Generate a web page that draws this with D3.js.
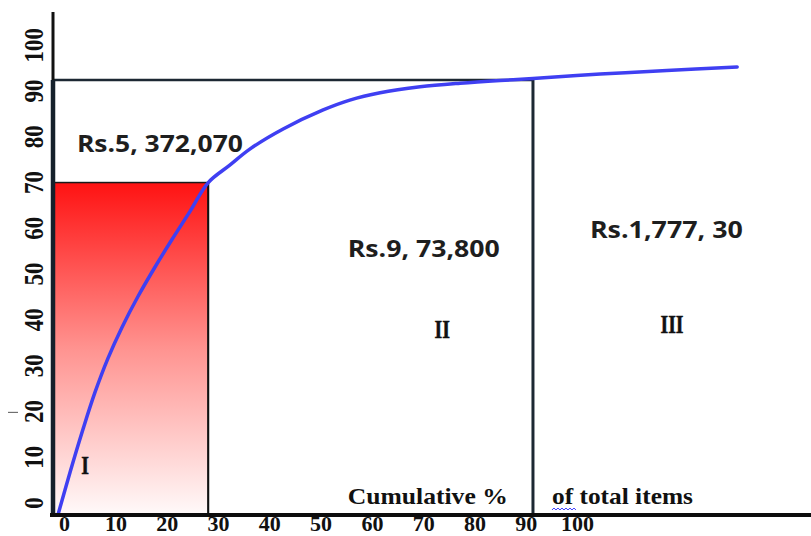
<!DOCTYPE html>
<html>
<head>
<meta charset="utf-8">
<script src="https://cdn.jsdelivr.net/npm/d3@7"></script>
<style>
  html, body { margin: 0; padding: 0; background: #fff; }
  svg { display: block; }
</style>
</head>
<body>
<svg id="chart" width="811" height="536"></svg>
<script>
// ---------- data ----------
const xTickValues = [0, 10, 20, 30, 40, 50, 60, 70, 80, 90, 100];
const yTickValues = [0, 10, 20, 30, 40, 50, 60, 70, 80, 90, 100];
// cumulative % of items (x) vs cumulative % of value (y)
const curveItems = [-1.3, 1.05, 3.6, 5.9, 8.45, 11.2, 14.3, 17.6, 20.9, 24.45, 28.0, 32.2, 36.1, 42.6, 50.4, 55.6, 61.5, 69.3, 77.1, 84.9, 91.3, 104.4, 117.4, 131.1];
const curveValue = [-2.6, 6.66, 16.16, 24.1, 31.6, 38.4, 45.1, 51.5, 57.5, 63.7, 70.0, 73.8, 77.3, 81.7, 85.85, 88.0, 89.6, 90.9, 91.7, 92.3, 92.7, 93.7, 94.45, 95.25];
// class boundaries
const boundaryItems = [28.0, 91.3];
const boundaryValue = [70, 92.4];
const classNames = ["I", "II", "III"];
const classAmounts = ["Rs.5, 372,070", "Rs.9, 73,800", "Rs.1,777, 30"];
const axisTitleParts = ["Cumulative %", "of total items"];

// ---------- layout ----------
const W = 811, H = 536;
const axisLeft = 53, axisBottom = 515, axisTop = 12;
const svg = d3.select("#chart");
svg.append("rect").attr("width", W).attr("height", H).attr("fill", "#fff");

const x = d3.scaleLinear().domain([0, 100]).range([64.6, 577.6]);
const y = d3.scaleLinear().domain([0, 100]).range([503, 45.2]);

// gradient for class I block
const defs = svg.append("defs");
const grad = defs.append("linearGradient").attr("id", "redGrad")
  .attr("x1", 0).attr("y1", 0).attr("x2", 0).attr("y2", 1);
grad.append("stop").attr("offset", "0%").attr("stop-color", "#ff1212");
grad.append("stop").attr("offset", "50%").attr("stop-color", "#ff9390");
grad.append("stop").attr("offset", "100%").attr("stop-color", "#fffafa");

// class I block
svg.append("rect")
  .attr("x", axisLeft)
  .attr("y", y(boundaryValue[0]))
  .attr("width", x(boundaryItems[0]) - axisLeft)
  .attr("height", axisBottom - y(boundaryValue[0]))
  .attr("fill", "url(#redGrad)")
  .attr("stroke", "#1a1a1a").attr("stroke-width", 1.5);

// boundary lines
const lineColor = "#1c2833";
svg.append("line")
  .attr("x1", axisLeft).attr("x2", x(boundaryItems[1]))
  .attr("y1", y(boundaryValue[1])).attr("y2", y(boundaryValue[1]))
  .attr("stroke", lineColor).attr("stroke-width", 2.5);
svg.append("line")
  .attr("x1", x(boundaryItems[1])).attr("x2", x(boundaryItems[1]))
  .attr("y1", y(boundaryValue[1])).attr("y2", axisBottom)
  .attr("stroke", lineColor).attr("stroke-width", 3);
svg.append("line")
  .attr("x1", x(boundaryItems[0])).attr("x2", x(boundaryItems[0]))
  .attr("y1", y(boundaryValue[0])).attr("y2", axisBottom)
  .attr("stroke", "#111").attr("stroke-width", 2);

// curve
const pts = curveItems.map((d, i) => [d, curveValue[i]]);
svg.append("path")
  .datum(pts)
  .attr("fill", "none")
  .attr("stroke", "#3f3ff2")
  .attr("stroke-width", 3.5)
  .attr("stroke-linecap", "round")
  .attr("d", d3.line().x(d => x(d[0])).y(d => y(d[1])).curve(d3.curveCatmullRom.alpha(0.5)));

// axes lines
svg.append("line").attr("x1", axisLeft).attr("x2", axisLeft)
  .attr("y1", axisTop).attr("y2", y(boundaryValue[1]))
  .attr("stroke", "#111").attr("stroke-width", 3);
svg.append("line").attr("x1", axisLeft).attr("x2", axisLeft)
  .attr("y1", y(boundaryValue[1])).attr("y2", axisBottom + 2)
  .attr("stroke", "#15202b").attr("stroke-width", 4.5);
svg.append("line").attr("x1", axisLeft - 3).attr("x2", W)
  .attr("y1", axisBottom).attr("y2", axisBottom)
  .attr("stroke", "#0d0d0d").attr("stroke-width", 4);

// stray mark left of the axis
svg.append("line").attr("x1", 8).attr("x2", 18).attr("y1", y(19.8)).attr("y2", y(19.8))
  .attr("stroke", "#555").attr("stroke-width", 1);

// tick labels
const serif = "'Liberation Serif', 'Times New Roman', serif";
svg.append("g").selectAll("text").data(xTickValues).join("text")
  .attr("x", d => x(d)).attr("y", 531)
  .attr("text-anchor", "middle")
  .attr("font-family", serif).attr("font-weight", "bold").attr("font-size", 22)
  .attr("fill", "#111")
  .text(d => d);
svg.append("g").selectAll("text").data(yTickValues).join("text")
  .attr("transform", d => `translate(43,${y(d)}) rotate(-90) scale(1,1.18)`)
  .attr("text-anchor", "middle")
  .attr("font-family", serif).attr("font-weight", "bold").attr("font-size", 23)
  .attr("fill", "#111")
  .text(d => d);

// amount labels
const amountPos = [[2.4, 76.6], [55.2, 53.7], [102.4, 57.9]];
const amountWidth = [166, 152, 153];
const sans = "'Open Sans', 'Noto Sans', sans-serif";
svg.append("g").selectAll("text").data(classAmounts).join("text")
  .attr("x", (d, i) => x(amountPos[i][0]))
  .attr("y", (d, i) => y(amountPos[i][1]))
  .attr("font-family", sans).attr("font-weight", "bold").attr("font-size", 23)
  .attr("textLength", (d, i) => amountWidth[i])
  .attr("lengthAdjust", "spacingAndGlyphs")
  .attr("fill", "#1e1e1e")
  .text(d => d);

// class labels
const classPos = [[4.0, 6.4], [73.6, 36.0], [118.4, 37.2]];
svg.append("g").selectAll("text").data(classNames).join("text")
  .attr("transform", (d, i) => `translate(${x(classPos[i][0])},${y(classPos[i][1])}) scale(0.9,1.12)`)
  .attr("text-anchor", "middle")
  .attr("font-family", serif).attr("font-weight", "bold").attr("font-size", 22)
  .attr("stroke", "#111").attr("stroke-width", 0.4)
  .attr("fill", "#111")
  .text(d => d);

// axis title (two parts)
const titlePos = [55.2, 95.0];
const titleWidth = [160, 141];
svg.append("g").selectAll("text").data(axisTitleParts).join("text")
  .attr("x", (d, i) => x(titlePos[i]))
  .attr("y", 504)
  .attr("font-family", serif).attr("font-weight", "bold").attr("font-size", 23)
  .attr("textLength", (d, i) => titleWidth[i])
  .attr("lengthAdjust", "spacingAndGlyphs")
  .attr("fill", "#111")
  .text(d => d);

// spell-check squiggle under "of"
const sq0 = x(titlePos[1]);
let sq = `M${sq0},510`;
for (let k = 0; k < 6; k++) sq += ` l2,-2 l2,2`;
svg.append("path").attr("d", sq).attr("fill", "none")
  .attr("stroke", "#3b3bff").attr("stroke-width", 1);
</script>
</body>
</html>
